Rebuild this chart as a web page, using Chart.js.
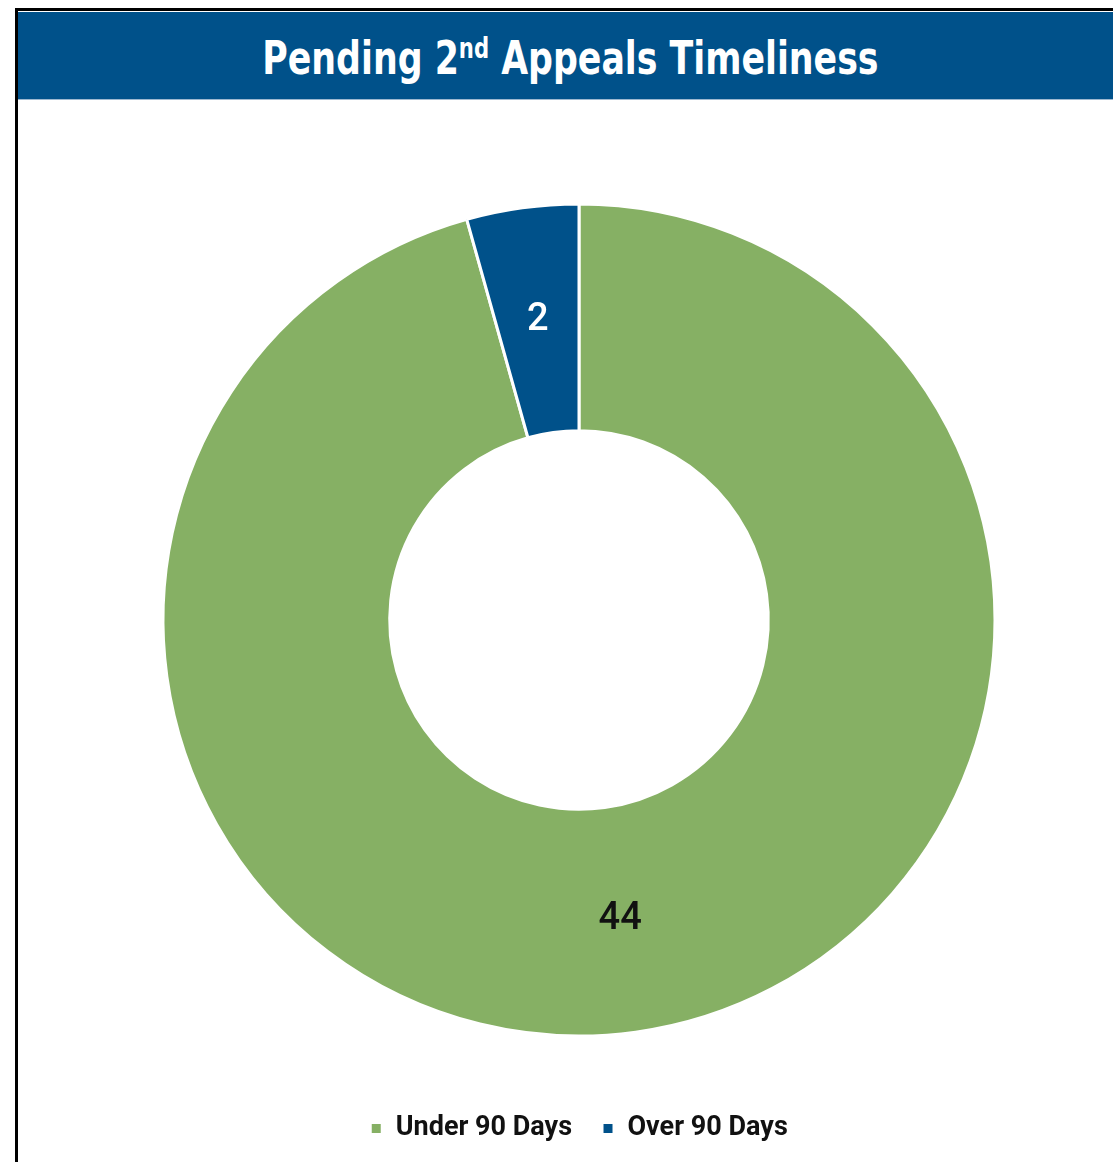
<!DOCTYPE html>
<html>
<head>
<meta charset="utf-8">
<script src="https://cdn.jsdelivr.net/npm/chart.js@4.4.1/dist/chart.umd.min.js"></script>
<style>
  html, body { margin:0; padding:0; background:#ffffff; width:1113px; height:1162px; overflow:hidden; }
  #frame { position:absolute; left:15px; top:8px; width:1120px; height:1180px; border-left:3px solid #000; border-top:3px solid #000; box-sizing:border-box; }
  #header { position:absolute; left:18px; top:12px; width:1100px; height:88px; background:#00518A; border-bottom:1px solid #9db8d0;
            color:#fff; font-family:'DejaVu Sans Condensed','Roboto',sans-serif; font-weight:bold;
            font-size:46px; line-height:88px; box-sizing:border-box; }
  #header .t { position:absolute; left:0; width:1105px; text-align:center; top:2px; transform:scaleX(0.84); transform-origin:552px 50%; white-space:nowrap; }
  #header sup { font-size:28px; line-height:0; vertical-align:0; position:relative; top:-16px; }
  #c { position:absolute; left:0; top:0; }
</style>
</head>
<body>
<div id="frame"></div>
<div id="header"><span class="t">Pending 2<sup>nd</sup> Appeals Timeliness</span></div>
<canvas id="c" width="1113" height="1162"></canvas>
<script>
const categories = ['Under 90 Days', 'Over 90 Days'];
const values = [44, 2];
const sliceColors = ['#86B064', '#00518A'];
const labelColors = ['#111111', '#ffffff'];

const sliceLabels = {
  id: 'sliceLabels',
  afterDatasetsDraw(chart) {
    const ctx = chart.ctx;
    const meta = chart.getDatasetMeta(0);
    ctx.save();
    ctx.textAlign = 'center';
    ctx.textBaseline = 'middle';
    meta.data.forEach((arc, i) => {
      const p = arc.getCenterPoint();
      ctx.fillStyle = labelColors[i];
      ctx.font = '500 38px Roboto, "Liberation Sans", Arial, sans-serif';
      ctx.fillText(String(values[i]), p.x, p.y);
    });
    ctx.restore();
  }
};

new Chart(document.getElementById('c'), {
  type: 'doughnut',
  data: {
    labels: categories,
    datasets: [{
      data: values,
      backgroundColor: sliceColors,
      borderColor: '#ffffff',
      borderWidth: 3,
      hoverOffset: 0
    }]
  },
  options: {
    responsive: false,
    animation: false,
    radius: 416,
    cutout: '45.5%',
    layout: { padding: { top: 155, bottom: 10, left: 45, right: 0 } },
    plugins: {
      tooltip: { enabled: false },
      title: { display: false },
      legend: {
        position: 'bottom',
        labels: {
          boxWidth: 12, boxHeight: 12, padding: 30,
          color: '#111111',
          font: { family: "Roboto, 'DejaVu Sans Condensed', sans-serif", size: 27, weight: 'bold' }
        }
      }
    }
  },
  plugins: [sliceLabels]
});
</script>
</body>
</html>
